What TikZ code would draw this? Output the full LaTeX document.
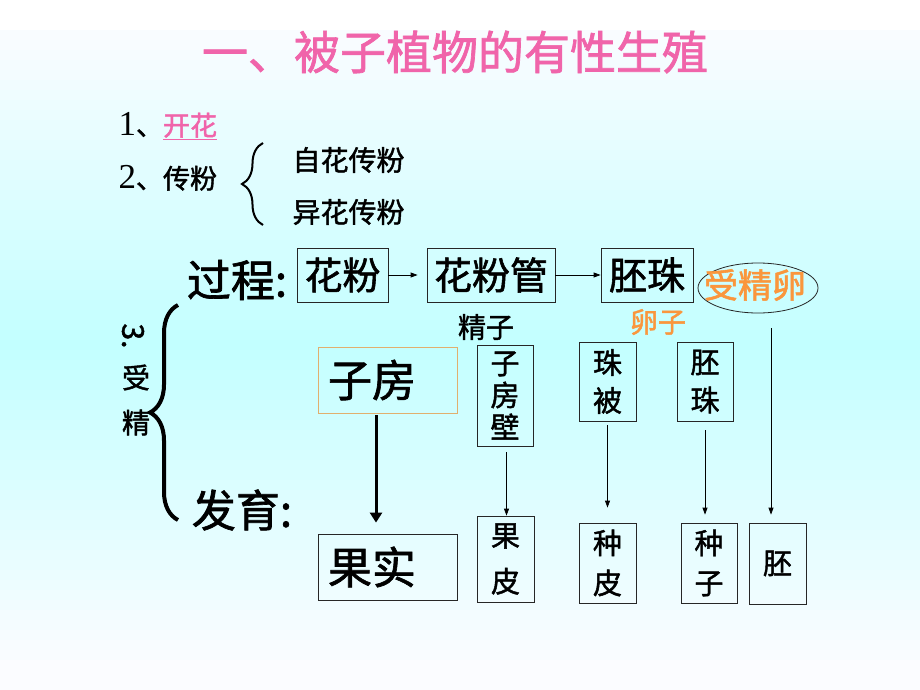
\documentclass[tikz,border=0pt]{standalone}
\usepackage{fontspec}
\setmainfont{Liberation Serif}
\newfontfamily\cjk{Noto Sans CJK SC}[FakeBold=1.5]
\usetikzlibrary{arrows.meta,shapes.geometric,decorations.pathreplacing}
\definecolor{titlepink}{RGB}{240,100,170}
\definecolor{eggorange}{RGB}{250,150,60}
\definecolor{bgcyan}{RGB}{194,255,255}
\definecolor{bgpale}{RGB}{251,252,255}
\definecolor{ovaryedge}{RGB}{225,175,110}
\newcommand\fs[1]{\fontsize{#1pt}{#1pt}\selectfont}
\tikzset{
  box/.style={draw=black!85, line width=0.8pt, inner sep=0pt},
  tip/.style={-{Triangle[length=7pt,width=5pt]}, line width=0.8pt},
}
\begin{document}
\begin{tikzpicture}[x=1pt,y=-1pt]
\useasboundingbox (0,0) rectangle (920,690);
% background
\fill[white] (0,0) rectangle (920,690);
\foreach \i in {0,...,65}{
  \pgfmathtruncatemacro\p{max(0,100-abs(35+\i*10-345)/3.2)}
  \fill[bgcyan!\p!bgpale] (0,30+\i*10) rectangle (920,40.6+\i*10);
}

\node[font=\cjk\fs{46}, text=titlepink] (title) at (455,52) {一、被子植物的有性生殖};

% 1, 2
\node[anchor=west, font=\fs{27}] (s1) at (115,126) {{\fs{35}1}{\cjk 、\textcolor{titlepink}{\underline{开花}}}};
\node[anchor=west, font=\fs{27}] (s2) at (115,178) {{\fs{35}2}{\cjk 、传粉}};
\draw[line width=2pt, decorate, decoration={brace, amplitude=21pt}] (263,225) -- (263,143);
\node[anchor=west, font=\cjk\fs{28}] (zh) at (289,160) {自花传粉};
\node[anchor=west, font=\cjk\fs{28}] (yh) at (289,212) {异花传粉};

% 3
\node[font=\cjk\fs{30}, rotate=-90] (n3) at (133,336) {3.};
\node[font=\cjk\fontsize{28pt}{45pt}\selectfont, align=center] (sj) at (136,400) {受\\精};
\draw[line width=4pt, decorate, decoration={brace, amplitude=28pt}] (178,520) -- (178,305);

\node[font=\cjk\fs{44}] (gc) at (237,280) {过程:};
\node[font=\cjk\fs{44}] (fy) at (242,510) {发育:};

% process row
\node[box, minimum width=91pt, minimum height=54pt, font=\cjk\fs{38}] (hf) at (342.5,275) {花粉};
\node[box, minimum width=128pt, minimum height=54pt, font=\cjk\fs{38}] (hfg) at (491,275) {花粉管};
\node[box, minimum width=92pt, minimum height=54pt, font=\cjk\fs{38}] (pz) at (647,275) {胚珠};
\node[ellipse, draw=black!85, line width=0.8pt, minimum width=120pt, minimum height=50pt, inner sep=0pt] (sjl) at (758,288) {};
\node[font=\cjk\fs{34}, text=eggorange] (sjlt) at (755,285) {受精卵};
\draw[tip, shorten >=9pt] (hf) -- (hfg);
\draw[tip] (hfg) -- (pz);
\node[font=\cjk\fs{28}] (jz) at (486,327) {精子};
\node[font=\cjk\fs{28}, text=eggorange] (lz) at (658,322) {卵子};

% development
\node[box, draw=ovaryedge, minimum width=139pt, minimum height=66pt, text width=119pt, align=left, inner xsep=10pt, font=\cjk\fs{44}] (zf) at (387.5,380) {子房};
\node[box, minimum width=139pt, minimum height=66pt, text width=119pt, align=left, inner xsep=10pt, font=\cjk\fs{44}] (gs) at (387.5,567) {果实};
\node[box, minimum width=56pt, minimum height=101pt, align=center, font=\cjk\fontsize{29pt}{32pt}\selectfont] (zfb) at (505,395.5) {子\\房\\壁};
\node[box, minimum width=57pt, minimum height=79pt, align=center, font=\cjk\fontsize{29pt}{38pt}\selectfont] (zb) at (607.5,381.5) {珠\\被};
\node[box, minimum width=56pt, minimum height=79pt, align=center, font=\cjk\fontsize{29pt}{38pt}\selectfont] (pz2) at (705,381.5) {胚\\珠};
\node[box, minimum width=57pt, minimum height=86pt, align=center, font=\cjk\fontsize{29pt}{46pt}\selectfont] (gp) at (505.5,559) {果\\皮};
\node[box, minimum width=57pt, minimum height=80pt, align=center, font=\cjk\fontsize{29pt}{40pt}\selectfont] (zp) at (607.5,563) {种\\皮};
\node[box, minimum width=56pt, minimum height=80pt, align=center, font=\cjk\fontsize{29pt}{40pt}\selectfont] (zz) at (709,563) {种\\子};
\node[box, minimum width=57pt, minimum height=81pt, font=\cjk\fs{29}] (pei) at (777.5,563.5) {胚};

\draw[line width=3pt, -{Triangle[length=10pt,width=12pt]}] ([xshift=-11.5pt,yshift=-2pt]zf.south) -- ([xshift=-11.5pt,yshift=11pt]gs.north);
\draw[tip] ([xshift=1.5pt,yshift=-6pt]zfb.south) -- ([xshift=1pt]gp.north);
\draw[tip, shorten <=4pt, shorten >=15pt] (zb) -- (zp);
\draw[tip, shorten <=9pt, shorten >=8pt] (pz2.south) -- (pz2.south |- zz.north);
\draw[tip, shorten <=15pt, shorten >=8pt] ([xshift=13pt]sjl.south) -- ([xshift=13pt]sjl.south |- pei.north);
\end{tikzpicture}
\end{document}
